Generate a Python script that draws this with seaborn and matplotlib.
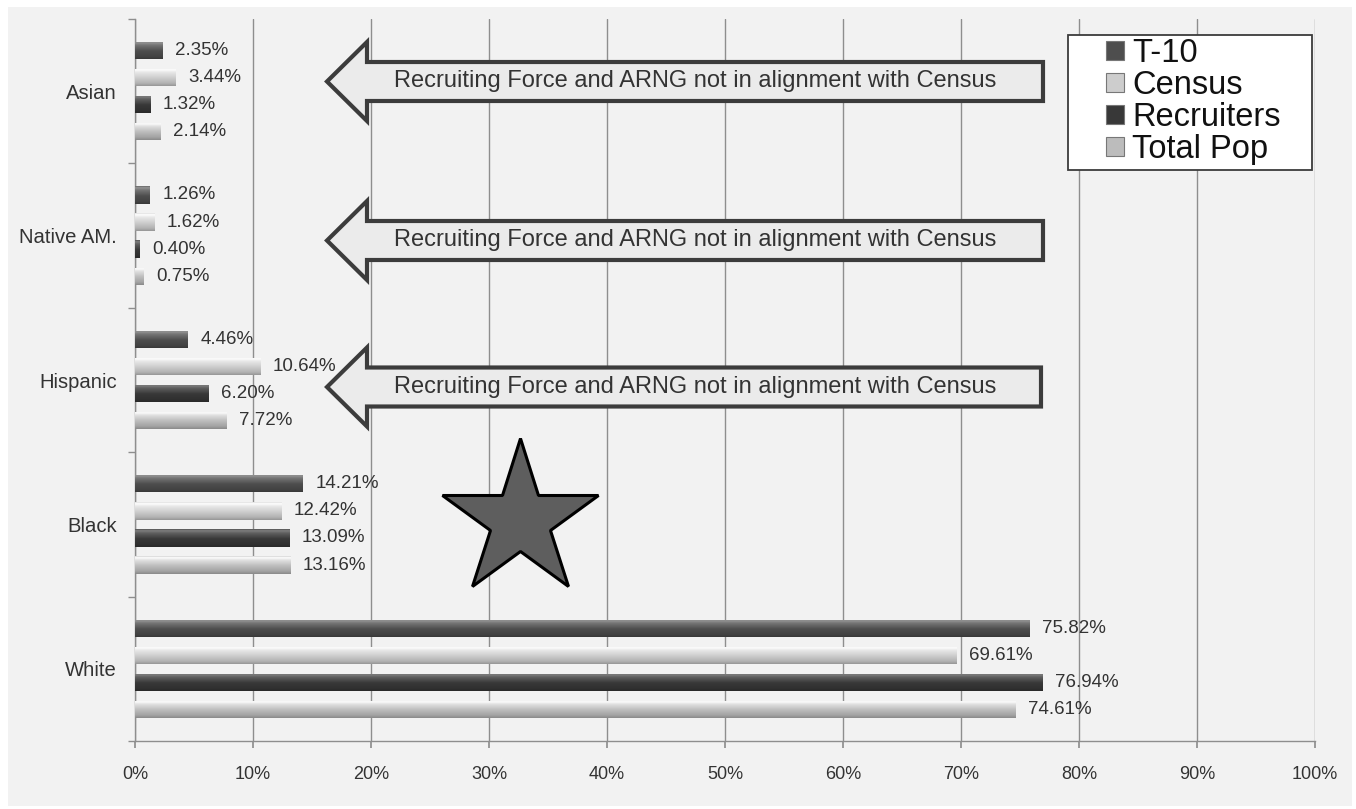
import numpy as np
import pandas as pd
import matplotlib
matplotlib.use("Agg")
import matplotlib.pyplot as plt
from matplotlib.patches import Polygon, Rectangle, Patch
from matplotlib.colors import to_rgb
import seaborn as sns

# ---- data -------------------------------------------------------------
groups = ["Asian", "Native AM.", "Hispanic", "Black", "White"]
series = ["T-10", "Census", "Recruiters", "Total Pop"]
t10 = [2.35, 1.26, 4.46, 14.21, 75.82]
census = [3.44, 1.62, 10.64, 12.42, 69.61]
recruiters = [1.32, 0.40, 6.20, 13.09, 76.94]
total_pop = [2.14, 0.75, 7.72, 13.16, 74.61]
x_ticks = [0, 10, 20, 30, 40, 50, 60, 70, 80, 90, 100]
x_tick_labels = [f"{t}%" for t in x_ticks]
callout_text = "Recruiting Force and ARNG not in alignment with Census"

df = pd.DataFrame({
    "group": np.repeat(groups, len(series)),
    "series": series * len(groups),
    "value": np.ravel(np.column_stack([t10, census, recruiters, total_pop])),
})

colors = {"T-10": "#4e4e4e", "Census": "#cdcdcd",
          "Recruiters": "#383838", "Total Pop": "#bcbcbc"}

# ---- figure -----------------------------------------------------------
sns.set_theme(style="white")
plt.rcParams["font.family"] = ["Liberation Sans", "DejaVu Sans"]
TEXT = "#333333"

fig = plt.figure(figsize=(13.56, 8.09), dpi=100, facecolor="white")
fig.patches.append(Rectangle((8 / 1356, 3 / 809), 1344 / 1356, 799 / 809,
                             transform=fig.transFigure, facecolor="#f2f2f2",
                             edgecolor="none", zorder=-10))
ax = fig.add_axes([135 / 1356, 1 - 741 / 809, 1180 / 1356, 722 / 809])
ax.set_facecolor("none")

sns.barplot(data=df, x="value", y="group", hue="series", orient="h",
            order=groups, hue_order=series, palette=colors,
            width=0.75, gap=0.36, errorbar=None, legend=False,
            edgecolor="none", ax=ax, zorder=3)


def shade(base, n=64):
    """Vertical cylinder-like shading for a bar of colour `base`."""
    c = np.array(to_rgb(base))
    t = np.linspace(0, 1, n)
    hi = np.clip(c + 0.28, 0, 1)
    lo = c * 0.62
    prof = np.interp(t, [0, 0.08, 0.22, 0.55, 0.85, 1.0],
                     [0.35, 1.0, 0.55, 0.0, -0.35, -0.7])
    out = np.empty((n, 1, 3))
    for i, p in enumerate(prof):
        out[i, 0] = c + (hi - c) * p if p >= 0 else c + (c - lo) * p
    return np.clip(out, 0, 1)


for cont, name in zip(ax.containers, series):
    for bar in cont:
        x0, y0 = bar.get_x(), bar.get_y()
        w, h = bar.get_width(), bar.get_height()
        im = ax.imshow(shade(colors[name]), extent=[x0, x0 + w, y0 + h, y0],
                       aspect="auto", interpolation="bilinear", zorder=3.5)
        im.set_clip_path(bar)
    ax.bar_label(cont, fmt="%.2f%%", padding=9, fontsize=13.5, color=TEXT,
                 zorder=6)

# ---- axes styling -----------------------------------------------------
ax.set_xlim(0, 100)
ax.set_ylim(len(groups) - 0.5, -0.5)
ax.set_xticks(x_ticks)
ax.set_xticklabels(x_tick_labels)
ax.set_yticks(range(len(groups)))
ax.set_yticklabels(groups)
ax.set_yticks(np.arange(-0.5, len(groups)), minor=True)
ax.set_xlabel("")
ax.set_ylabel("")
ax.grid(axis="x", color="#8e8e8e", linewidth=1.0, zorder=0)
ax.set_axisbelow(True)
for s in ("top", "right"):
    ax.spines[s].set_visible(False)
for s in ("left", "bottom"):
    ax.spines[s].set_color("#8e8e8e")
    ax.spines[s].set_linewidth(1.0)
ax.tick_params(axis="x", length=5, color="#8e8e8e", pad=13,
               labelsize=13, labelcolor=TEXT, direction="out", bottom=True)
ax.tick_params(axis="y", which="major", length=0, pad=13,
               labelsize=14.6, labelcolor=TEXT)
ax.tick_params(axis="y", which="minor", length=5, color="#8e8e8e",
               direction="out", left=True)


# ---- callout arrows -----------------------------------------------------
def px(xp, yp):
    return ((xp - 135) / 1180, (741 - yp) / 722)


for cy, right in ((81.5, 1043), (240.5, 1043), (387, 1041)):
    verts = [px(327, cy), px(367, cy - 39.5), px(367, cy - 19.5),
             px(right, cy - 19.5), px(right, cy + 19.5), px(367, cy + 19.5),
             px(367, cy + 39.5)]
    ax.add_patch(Polygon(verts, closed=True, transform=ax.transAxes,
                         facecolor="#ebebeb", edgecolor="#3c3c3c",
                         linewidth=3, joinstyle="miter", zorder=7))
    tx, ty = px(695, cy)
    ax.text(tx, ty, callout_text, transform=ax.transAxes, ha="center",
            va="center", fontsize=17, color=TEXT, zorder=8)

# ---- star ---------------------------------------------------------------
sx, sy = px(520, 520)
ax.plot([sx], [sy], transform=ax.transAxes, marker="*", markersize=118,
        markerfacecolor="#5e5e5e", markeredgecolor="black",
        markeredgewidth=2.2, linestyle="none", zorder=7, clip_on=False)

# ---- legend -------------------------------------------------------------
lx0, ly0 = px(1068, 170)
lx1, ly1 = px(1312, 35)
ax.add_patch(Rectangle((lx0, ly0), lx1 - lx0, ly1 - ly0, transform=ax.transAxes,
                       facecolor="white", edgecolor="#3c3c3c", linewidth=1.3,
                       zorder=9))
handles = [Patch(facecolor=colors[s], edgecolor="#777777", linewidth=0.8,
                 label=s) for s in series]
hx, hy = px(1106, 38)
leg = ax.legend(handles=handles, loc="upper left", bbox_to_anchor=(hx, hy),
                bbox_transform=ax.transAxes, frameon=False, fontsize=23.5,
                handlelength=0.55, handleheight=0.55, handletextpad=0.25,
                labelspacing=0.03, borderpad=0, borderaxespad=0)
leg.set_zorder(10)
for t in leg.get_texts():
    t.set_color("#111111")

fig.savefig("out.png", dpi=100, facecolor=fig.get_facecolor())
